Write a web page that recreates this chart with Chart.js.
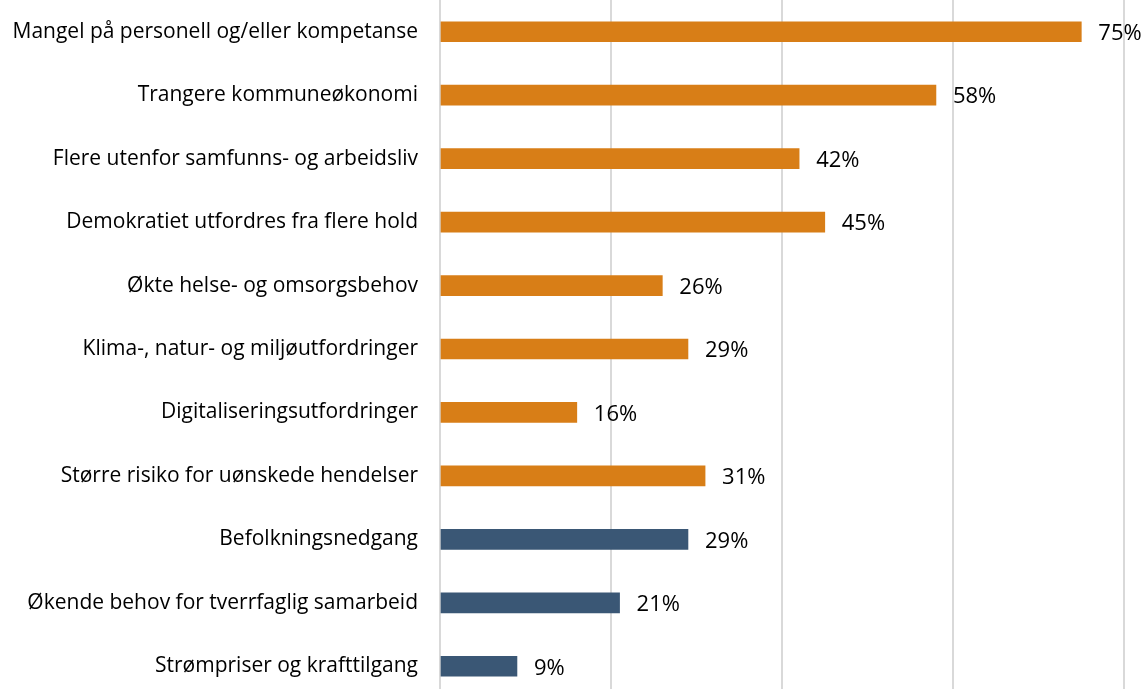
<!DOCTYPE html>
<html>
<head>
<meta charset="utf-8">
<script src="https://cdn.jsdelivr.net/npm/chart.js@4"></script>
<style>
  html, body { margin: 0; padding: 0; background: #fff; overflow: hidden; }
</style>
</head>
<body>
<canvas id="myChart" width="1148" height="698"></canvas>
<script>
var categories = [
  "Mangel på personell og/eller kompetanse",
  "Trangere kommuneøkonomi",
  "Flere utenfor samfunns- og arbeidsliv",
  "Demokratiet utfordres fra flere hold",
  "Økte helse- og omsorgsbehov",
  "Klima-, natur- og miljøutfordringer",
  "Digitaliseringsutfordringer",
  "Større risiko for uønskede hendelser",
  "Befolkningsnedgang",
  "Økende behov for tverrfaglig samarbeid",
  "Strømpriser og krafttilgang"
];
var values = [75, 58, 42, 45, 26, 29, 16, 31, 29, 21, 9];
// 0 = orange group, 1 = blue group
var groups = [0, 0, 0, 0, 0, 0, 0, 0, 1, 1, 1];
var groupColors = ["#D87E17", "#3A5775"];

var barLabels = {
  id: 'barLabels',
  afterDatasetsDraw: function(chart) {
    var ctx = chart.ctx;
    var meta = chart.getDatasetMeta(0);
    ctx.save();
    ctx.font = '22px "Open Sans"';
    ctx.fillStyle = '#000';
    ctx.textAlign = 'left';
    ctx.textBaseline = 'middle';
    meta.data.forEach(function(bar, i) {
      ctx.fillText(values[i] + '%', bar.x + 17, bar.y + 2);
    });
    ctx.restore();
  }
};

var ctx = document.getElementById('myChart').getContext('2d');
var myChart = new Chart(ctx, {
  type: 'bar',
  data: {
    labels: categories,
    datasets: [{
      data: values,
      backgroundColor: groups.map(function(g) { return groupColors[g]; }),
      barThickness: 20
    }]
  },
  options: {
    indexAxis: 'y',
    responsive: false,
    animation: false,
    layout: { padding: 0 },
    plugins: {
      legend: { display: false },
      tooltip: { enabled: false }
    },
    scales: {
      x: {
        min: 0,
        max: 82.8,
        afterFit: function(scale) { scale.height = 0; scale.paddingLeft = 0; scale.paddingRight = 0; },
        ticks: { display: false, stepSize: 20, includeBounds: false },
        grid: { color: '#d9d9d9', lineWidth: 2, drawTicks: false },
        border: { display: false }
      },
      y: {
        afterFit: function(scale) { scale.width = 440; scale.paddingTop = 0; scale.paddingBottom = 0; },
        ticks: { color: '#000', font: { family: 'Open Sans', size: 21 }, padding: 22 },
        grid: { display: false, drawTicks: false },
        border: { color: '#d9d9d9', width: 2 }
      }
    }
  },
  plugins: [barLabels]
});
</script>
</body>
</html>
